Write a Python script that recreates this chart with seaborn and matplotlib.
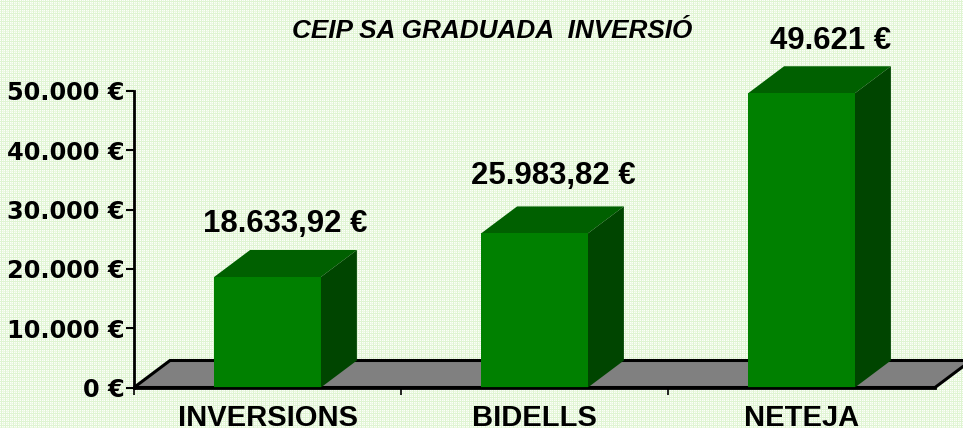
import numpy as np
import pandas as pd
import seaborn as sns
import matplotlib.pyplot as plt
from matplotlib.ticker import FuncFormatter

categories = ["INVERSIONS", "BIDELLS", "NETEJA"]
values = [18633.92, 25983.82, 49621]
value_labels = ["18.633,92 €", "25.983,82 €", "49.621 €"]
y_ticks = [0, 10000, 20000, 30000, 40000, 50000]
title = "CEIP SA GRADUADA  INVERSIÓ"

W, H = 963, 428
sns.set_theme(style="white")
plt.rcParams["font.family"] = ["Liberation Sans", "DejaVu Sans"]

fig = plt.figure(figsize=(W / 100, H / 100), dpi=100)

# woven paper background: fine pale green weave
weave = np.array([0.0, 0.7, 0.0, 0.4])
yy, xx = np.mgrid[0:H, 0:W]
amount = np.maximum(weave[xx % 4], weave[yy % 4])
paper = np.array([0.99, 1.0, 0.98])
thread = np.array([0.83, 0.94, 0.76])
bg = paper + (thread - paper) * amount[:, :, None]
fig.figimage(bg, 0, 0, zorder=-5)

ax = fig.add_axes([134 / W, 1 - 387.5 / H, 801 / W, 296.5 / H])
ax.patch.set_alpha(0)

df = pd.DataFrame({"cat": categories, "val": values})
sns.barplot(data=df, x="cat", y="val", color="#008000", saturation=1, width=0.4,
            linewidth=0, ax=ax, zorder=4)
ax.set_xlim(-0.5, 2.5)
ax.set_ylim(0, 50000)

dx = 36 / 267
dy = 27 / 296.5 * 50000
hw = 0.2

# floor
ax.fill([-0.5, -0.5 + dx, 2.5 + dx, 2.5], [0, dy, dy, 0], facecolor="#808080",
        edgecolor="black", lw=2.2, clip_on=False, zorder=2)

# 3d faces of the bars
for i, v in enumerate(values):
    ax.fill([i - hw, i - hw + dx, i + hw + dx, i + hw], [v, v + dy, v + dy, v],
            color="#006000", lw=0, clip_on=False, zorder=3)
    ax.fill([i + hw, i + hw + dx, i + hw + dx, i + hw], [0, dy, v + dy, v],
            color="#004500", lw=0, clip_on=False, zorder=3)

# value labels
label_pos = [(285, 224), (553, 176), (831, 41)]
for (px, py), s in zip(label_pos, value_labels):
    fig.text(px / W, 1 - py / H, s, ha="center", va="center", fontsize=22.4,
             fontweight="bold", color="black")

fig.text(492.5 / W, 1 - 31 / H, title, ha="center", va="center", fontsize=18.8,
         fontweight="bold", fontstyle="italic", color="black")

ax.set_xlabel("")
ax.set_ylabel("")
ax.set_yticks(y_ticks)
ax.yaxis.set_major_formatter(FuncFormatter(lambda v, p: f"{int(v):,} €".replace(",", ".")))
ax.set_xticks([-0.5, 0.5, 1.5], minor=True)
ax.set_xticks([0, 1, 2], categories)
ax.tick_params(axis="x", which="major", length=0, pad=12, labelsize=21)
ax.tick_params(axis="x", which="minor", bottom=True, length=5, width=1.2, color="black", direction="out")
ax.tick_params(axis="y", length=6, width=1.5, color="black", pad=1, left=True)
for t in ax.get_xticklabels():
    t.set_fontweight("bold")
    t.set_color("black")
for t in ax.get_yticklabels():
    t.set_fontfamily("DejaVu Sans")
    t.set_fontweight("bold")
    t.set_fontsize(17.3)
    t.set_color("black")

for s in ["top", "right"]:
    ax.spines[s].set_visible(False)
for s in ["left", "bottom"]:
    ax.spines[s].set_color("black")
    ax.spines[s].set_linewidth(2)
    ax.spines[s].set_zorder(6)

fig.savefig("out.png", dpi=100)
